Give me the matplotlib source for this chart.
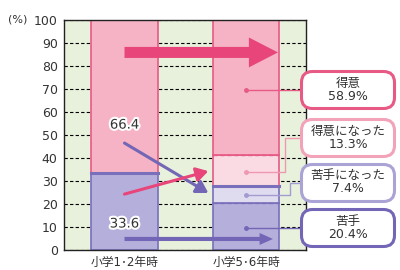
import numpy as np
import matplotlib
matplotlib.use('Agg')
from matplotlib import pyplot as plt
from matplotlib.patches import FancyBboxPatch, FancyArrow
from matplotlib.transforms import IdentityTransform
import matplotlib.patheffects as pe

plt.rcParams['font.family'] = ['DejaVu Sans', 'Noto Sans CJK JP']

# data
categories = ['小学1･2年時', '小学5･6年時']
before_good = 66.4      # 得意 (1-2年)
before_bad = 33.6       # 苦手 (1-2年)
after_labels = ['苦手', '苦手になった', '得意になった', '得意']
after_values = [20.4, 7.4, 13.3, 58.9]

pink = '#f5b3c5'
pink_edge = '#e65a85'
pink_light = '#fbdbe3'
purple = '#b5afdb'
purple_edge = '#7a6fbb'
purple_light = '#dfdcf0'
arrow_pink = '#e8467a'
arrow_purple = '#7466b6'
txt = '#333333'

fig = plt.figure(figsize=(4.0, 2.7), dpi=100)
ax = fig.add_axes([64/400, 20/270, 242/400, 230/270])
ax.set_facecolor('#e8f1dc')
ax.set_xlim(-0.498, 1.494)
ax.set_ylim(0, 100)

w = 0.55
# left bar
ax.bar(0, before_bad, w, color=purple, edgecolor=purple_edge, lw=1.2, zorder=2)
ax.bar(0, before_good, w, bottom=before_bad, color=pink, edgecolor=pink_edge, lw=1.2, zorder=2)
ax.plot([-w/2, w/2], [before_bad, before_bad], color=purple_edge, lw=2.2, zorder=3)

# right bar
bottoms = np.concatenate([[0], np.cumsum(after_values)[:-1]])
fills = [purple, purple_light, pink_light, pink]
edges = [purple_edge, purple_edge, pink_edge, pink_edge]
for v, b, f, e in zip(after_values, bottoms, fills, edges):
    ax.bar(1, v, w, bottom=b, color=f, edgecolor=e, lw=1.2, zorder=2)
# inner lines
ax.plot([1-w/2, 1+w/2], [bottoms[1], bottoms[1]], color=purple_edge, lw=1.0, ls=(0, (3, 2)), zorder=3)
ax.plot([1-w/2, 1+w/2], [bottoms[3], bottoms[3]], color=pink_edge, lw=1.0, ls=(0, (3, 2)), zorder=3)
ax.plot([1-w/2, 1+w/2], [bottoms[2], bottoms[2]], color=purple_edge, lw=2.2, zorder=3)

# grid
ax.set_yticks(np.arange(0, 101, 10))
ax.yaxis.grid(True, color='black', lw=0.8, ls=(0, (3, 2)), zorder=0)
ax.set_axisbelow(True)
ax.set_xticks([0, 1])
ax.set_xticklabels(categories, fontsize=8.5, color=txt)
ax.tick_params(axis='y', length=0, pad=4.5, labelsize=9, labelcolor=txt)
ax.tick_params(axis='x', length=0, pad=4, labelcolor=txt)
for s in ax.spines.values():
    s.set_color('#222222')
    s.set_linewidth(1.0)
fig.text(8/400, 1 - 20/270, '(%)', fontsize=8, color=txt, va='center', ha='left')

# arrows
ax.add_patch(FancyArrow(0, 85.9, 1.263 - 0.239, 0, width=4.8, head_width=13.0,
                        head_length=0.239, length_includes_head=False,
                        color=arrow_pink, lw=0, zorder=4))
ax.add_patch(FancyArrow(0, 4.8, 1.222 - 0.11, 0, width=1.8, head_width=5.2,
                        head_length=0.11, length_includes_head=False,
                        color=arrow_purple, lw=0, zorder=4))
ax.annotate('', xy=(0.69, 24.8), xytext=(0, 46.5),
            arrowprops=dict(arrowstyle='-|>,head_length=0.5,head_width=0.3', color=arrow_purple,
                            lw=2.2, shrinkA=0, shrinkB=0, mutation_scale=14), zorder=4)
ax.annotate('', xy=(0.69, 34.3), xytext=(0, 24.3),
            arrowprops=dict(arrowstyle='-|>,head_length=0.5,head_width=0.3', color=arrow_pink,
                            lw=2.2, shrinkA=0, shrinkB=0, mutation_scale=14), zorder=4)

halo = [pe.withStroke(linewidth=3, foreground='white')]
ax.text(0, 54.3, f'{before_good}', ha='center', va='center', fontsize=9.5, color=txt,
        path_effects=halo, zorder=5)
ax.text(0, 11.3, f'{before_bad}', ha='center', va='center', fontsize=9.5, color=txt,
        path_effects=halo, zorder=5)

# callout boxes (pixel coords, top-down)
def px2data_y(py):
    return (250 - py) / 2.3

def px2data_x(px):
    return (px - 124.5) / 121.5

box_tops = [71.5, 119.5, 164.5, 209.5]
box_h = 37
box_colors = [pink_edge, '#f2a3ba', '#aaa3d6', arrow_purple]
line_colors = [pink_edge, '#ee98b2', '#a39bd2', arrow_purple]
box_order = [3, 2, 1, 0]
dot_y = [69.6, 34.0, 24.0, 9.6]
bend_x = [None, 285, 290, None]
box_left = 301.5
for i, k in enumerate(box_order):
    top = box_tops[i]
    p = FancyBboxPatch((box_left, 270 - top - box_h), 93, box_h,
                       boxstyle='round,pad=0,rounding_size=11',
                       transform=IdentityTransform(), facecolor='white',
                       edgecolor=box_colors[i], lw=2.2, zorder=6)
    fig.add_artist(p)
    fig.text(box_left + 46.5, 270 - top - box_h/2 + 0.5, f'{after_labels[k]}\n{after_values[k]}%',
             transform=IdentityTransform(), ha='center', va='center', fontsize=9,
             color=txt, linespacing=1.0, zorder=7)
    cy = px2data_y(top + box_h/2)
    x0 = 1.0
    xe = px2data_x(box_left)
    if bend_x[i] is None:
        xs, ys = [x0, xe], [dot_y[i], dot_y[i]]
    else:
        xb = px2data_x(bend_x[i])
        xs, ys = [x0, xb, xb, xe], [dot_y[i], dot_y[i], cy, cy]
    ax.plot(xs, ys, color=line_colors[i], lw=1.0, clip_on=False, zorder=5)
    ax.plot(x0, dot_y[i], 'o', ms=2.5, color=line_colors[i], zorder=5)

fig.savefig('out.png', dpi=100)
